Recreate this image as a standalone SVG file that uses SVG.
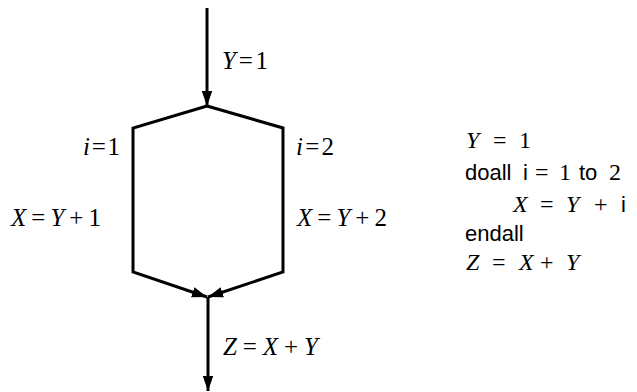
<svg xmlns="http://www.w3.org/2000/svg" width="637" height="392" viewBox="0 0 637 392">
<style>
.e{stroke:#000;stroke-width:3;fill:none}
.m{font-family:"Liberation Serif","DejaVu Serif",serif;font-size:25px;fill:#000}
.c{font-size:24px}
.i{font-style:italic}
.s{font-family:"Liberation Sans","DejaVu Sans",sans-serif;font-size:22px;fill:#000}
</style>
<defs>
<marker id="a" viewBox="0 0 10 10" refX="10" refY="5" markerWidth="5" markerHeight="5" orient="auto" markerUnits="strokeWidth"><path d="M0,1.5 L10,5 L0,8.5 z" fill="#000"/></marker>
</defs>
<g id="connectors">
<line class="e" x1="207" y1="8" x2="207" y2="106" marker-end="url(#a)"/>
<polyline class="e" points="207,106 133,128 133,272 207,297" marker-end="url(#a)"/>
<polyline class="e" points="207,106 283,128 283,272 208,297" marker-end="url(#a)"/>
<line class="e" x1="208" y1="297" x2="208" y2="391" marker-end="url(#a)"/>
</g>
<g id="labels">
<text class="m" x="222" y="69" textLength="46" lengthAdjust="spacing"><tspan class="i">Y</tspan>=1</text>
<text class="m" x="83" y="155" textLength="37" lengthAdjust="spacing"><tspan class="i">i</tspan>=1</text>
<text class="m" x="296" y="155" textLength="38" lengthAdjust="spacing"><tspan class="i">i</tspan>=2</text>
<text class="m" x="11" y="226" textLength="90" lengthAdjust="spacing"><tspan class="i">X</tspan>=<tspan class="i">Y</tspan>+1</text>
<text class="m" x="297" y="226" textLength="90" lengthAdjust="spacing"><tspan class="i">X</tspan>=<tspan class="i">Y</tspan>+2</text>
<text class="m" x="223" y="355" textLength="95" lengthAdjust="spacing"><tspan class="i">Z</tspan>=<tspan class="i">X</tspan>+<tspan class="i">Y</tspan></text>
</g>
<g id="code">
<text class="m c" y="148"><tspan class="i" x="466">Y</tspan><tspan x="493">=</tspan><tspan x="519">1</tspan></text>
<text class="s" y="180"><tspan x="465">doall</tspan><tspan x="523">i</tspan><tspan class="m c" x="535">=</tspan><tspan class="m c" x="559">1</tspan><tspan x="579">to</tspan><tspan class="m c" x="609">2</tspan></text>
<text class="m c" y="212"><tspan class="i" x="513">X</tspan><tspan x="540">=</tspan><tspan class="i" x="566">Y</tspan><tspan x="594">+</tspan><tspan class="s" x="621">i</tspan></text>
<text class="s" x="465" y="241">endall</text>
<text class="m c" y="270"><tspan class="i" x="466">Z</tspan><tspan x="492">=</tspan><tspan class="i" x="519">X</tspan><tspan x="540">+</tspan><tspan class="i" x="566">Y</tspan></text>
</g>
</svg>
